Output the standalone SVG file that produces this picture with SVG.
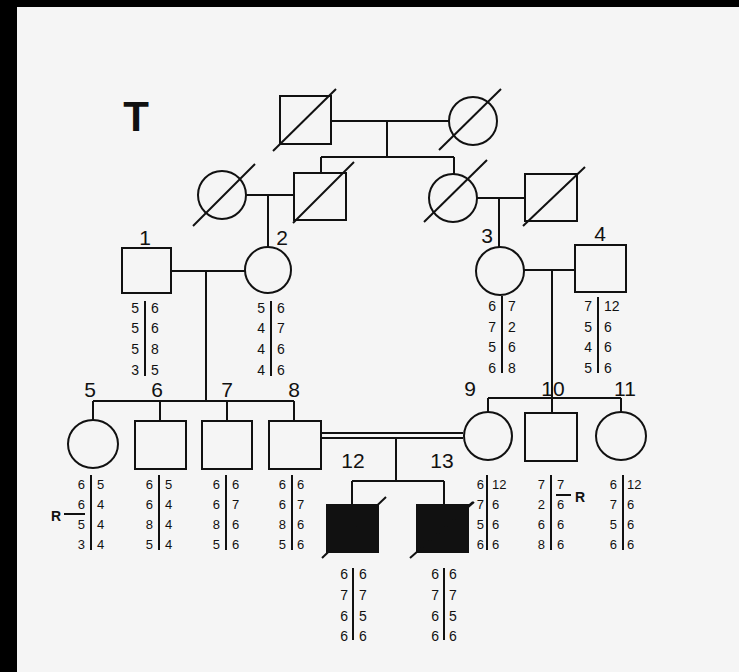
<svg xmlns="http://www.w3.org/2000/svg" width="739" height="672" viewBox="0 0 739 672">
<style>
.s{fill:none;stroke:#111;stroke-width:2}
.f{fill:#111;stroke:#111;stroke-width:2}
.c{fill:none;stroke:#111;stroke-width:2}
.lbl{font-family:"Liberation Sans",Arial,sans-serif;font-size:21px;fill:#111;text-anchor:middle}
.d{font-family:"Liberation Sans",Arial,sans-serif;font-size:14px;fill:#111}
.d2{font-family:"Liberation Sans",Arial,sans-serif;font-size:13px;fill:#111}
.l{text-anchor:end}
.r{text-anchor:start}
.bar{stroke:#111;stroke-width:2}
.R{font-family:"Liberation Sans",Arial,sans-serif;font-size:14px;font-weight:bold;fill:#111;text-anchor:middle}
</style>
<rect x="0" y="0" width="739" height="672" fill="#f5f5f5"/>
<rect x="0" y="0" width="739" height="7" fill="#000"/>
<rect x="0" y="0" width="17" height="672" fill="#000"/>
<text x="136" y="131" font-family="Liberation Sans,Arial,sans-serif" font-size="42" font-weight="bold" fill="#111" text-anchor="middle">T</text>

<g id="connectors" class="c">
<path d="M331 121H449M387 121V157M321 157H454M321 157V173M454 157V174"/>
<path d="M246 195H294M268 195V247"/>
<path d="M477 198H525M499 198V247"/>
<path d="M171 271H245M206 271V401M93 401H294M93 401V420M160 401V421M227 401V421M294 401V421"/>
<path d="M524 270H575M552 270V398M488 398H621M488 398V412M552 398V413M621 398V412"/>
<path d="M321 433H463M321 438H463M396 438V481M352 481H444M352 481V505M444 481V505"/>
</g>

<g id="gI_m"><rect class="s" x="280" y="96" width="51" height="48"/><line class="s" x1="273" y1="151" x2="336" y2="89"/></g>
<g id="gI_f"><circle class="s" cx="473" cy="121" r="24"/><line class="s" x1="439" y1="150" x2="501" y2="89"/></g>
<g id="gII_f1"><circle class="s" cx="222" cy="195" r="24"/><line class="s" x1="193" y1="226" x2="255" y2="164"/></g>
<g id="gII_m1"><rect class="s" x="294" y="173" width="52" height="47"/><line class="s" x1="293" y1="223" x2="354" y2="162"/></g>
<g id="gII_f2"><circle class="s" cx="453" cy="198" r="24"/><line class="s" x1="424" y1="222" x2="487" y2="160"/></g>
<g id="gII_m2"><rect class="s" x="525" y="174" width="52" height="47"/><line class="s" x1="523" y1="226" x2="585" y2="167"/></g>

<g id="n1"><rect class="s" x="122" y="248" width="49" height="45"/><text class="lbl" x="145" y="245">1</text>
<line class="bar" x1="145" y1="301" x2="145" y2="376"/>
<text class="d l" x="139" y="313">5</text><text class="d l" x="139" y="333">5</text><text class="d l" x="139" y="354">5</text><text class="d l" x="139" y="375">3</text>
<text class="d r" x="151" y="313">6</text><text class="d r" x="151" y="333">6</text><text class="d r" x="151" y="354">8</text><text class="d r" x="151" y="375">5</text></g>

<g id="n2"><circle class="s" cx="268" cy="270" r="23"/><text class="lbl" x="282" y="245">2</text>
<line class="bar" x1="271" y1="301" x2="271" y2="376"/>
<text class="d l" x="265" y="313">5</text><text class="d l" x="265" y="333">4</text><text class="d l" x="265" y="354">4</text><text class="d l" x="265" y="375">4</text>
<text class="d r" x="277" y="313">6</text><text class="d r" x="277" y="333">7</text><text class="d r" x="277" y="354">6</text><text class="d r" x="277" y="375">6</text></g>

<g id="n3"><circle class="s" cx="500" cy="271" r="24"/><text class="lbl" x="487" y="243">3</text>
<line class="bar" x1="502" y1="296" x2="502" y2="373"/>
<text class="d l" x="496" y="311">6</text><text class="d l" x="496" y="332">7</text><text class="d l" x="496" y="352">5</text><text class="d l" x="496" y="373">6</text>
<text class="d r" x="508" y="311">7</text><text class="d r" x="508" y="332">2</text><text class="d r" x="508" y="352">6</text><text class="d r" x="508" y="373">8</text></g>

<g id="n4"><rect class="s" x="575" y="245" width="51" height="47"/><text class="lbl" x="600" y="241">4</text>
<line class="bar" x1="598" y1="297" x2="598" y2="373"/>
<text class="d l" x="592" y="311">7</text><text class="d l" x="592" y="332">5</text><text class="d l" x="592" y="352">4</text><text class="d l" x="592" y="373">5</text>
<text class="d r" x="604" y="311">12</text><text class="d r" x="604" y="332">6</text><text class="d r" x="604" y="352">6</text><text class="d r" x="604" y="373">6</text></g>

<g id="n5"><ellipse class="s" cx="93" cy="444" rx="25" ry="24"/><text class="lbl" x="90" y="397">5</text>
<line class="bar" x1="91" y1="475" x2="91" y2="550"/>
<text class="d2 l" x="85" y="489">6</text><text class="d2 l" x="85" y="509">6</text><text class="d2 l" x="85" y="529">5</text><text class="d2 l" x="85" y="549">3</text>
<text class="d2 r" x="97" y="489">5</text><text class="d2 r" x="97" y="509">4</text><text class="d2 r" x="97" y="529">4</text><text class="d2 r" x="97" y="549">4</text>
<line class="bar" x1="64" y1="514" x2="85" y2="514" stroke-width="1.6"/><text class="R" x="56" y="521">R</text></g>

<g id="n6"><rect class="s" x="135" y="421" width="51" height="48"/><text class="lbl" x="157" y="397">6</text>
<line class="bar" x1="159" y1="475" x2="159" y2="550"/>
<text class="d2 l" x="153" y="489">6</text><text class="d2 l" x="153" y="509">6</text><text class="d2 l" x="153" y="529">8</text><text class="d2 l" x="153" y="549">5</text>
<text class="d2 r" x="165" y="489">5</text><text class="d2 r" x="165" y="509">4</text><text class="d2 r" x="165" y="529">4</text><text class="d2 r" x="165" y="549">4</text></g>

<g id="n7"><rect class="s" x="202" y="421" width="50" height="48"/><text class="lbl" x="227" y="397">7</text>
<line class="bar" x1="226" y1="475" x2="226" y2="550"/>
<text class="d2 l" x="220" y="489">6</text><text class="d2 l" x="220" y="509">6</text><text class="d2 l" x="220" y="529">8</text><text class="d2 l" x="220" y="549">5</text>
<text class="d2 r" x="232" y="489">6</text><text class="d2 r" x="232" y="509">7</text><text class="d2 r" x="232" y="529">6</text><text class="d2 r" x="232" y="549">6</text></g>

<g id="n8"><rect class="s" x="269" y="421" width="52" height="48"/><text class="lbl" x="294" y="397">8</text>
<line class="bar" x1="292" y1="475" x2="292" y2="550"/>
<text class="d2 l" x="286" y="489">6</text><text class="d2 l" x="286" y="509">6</text><text class="d2 l" x="286" y="529">8</text><text class="d2 l" x="286" y="549">5</text>
<text class="d2 r" x="297" y="489">6</text><text class="d2 r" x="297" y="509">7</text><text class="d2 r" x="297" y="529">6</text><text class="d2 r" x="297" y="549">6</text></g>

<g id="n9"><circle class="s" cx="488" cy="436" r="24"/><text class="lbl" x="470" y="396">9</text>
<line class="bar" x1="487" y1="475" x2="487" y2="550"/>
<text class="d2 l" x="484" y="489">6</text><text class="d2 l" x="484" y="509">7</text><text class="d2 l" x="484" y="529">5</text><text class="d2 l" x="484" y="549">6</text>
<text class="d2 r" x="492" y="489">12</text><text class="d2 r" x="492" y="509">6</text><text class="d2 r" x="492" y="529">6</text><text class="d2 r" x="492" y="549">6</text>
<line class="bar" x1="467" y1="507" x2="473" y2="502" stroke-width="1.6"/></g>

<g id="n10"><rect class="s" x="525" y="413" width="52" height="48"/><text class="lbl" x="553" y="396">10</text>
<line class="bar" x1="551" y1="475" x2="551" y2="550"/>
<text class="d2 l" x="545" y="489">7</text><text class="d2 l" x="545" y="509">2</text><text class="d2 l" x="545" y="529">6</text><text class="d2 l" x="545" y="549">8</text>
<text class="d2 r" x="557" y="489">7</text><text class="d2 r" x="557" y="509">6</text><text class="d2 r" x="557" y="529">6</text><text class="d2 r" x="557" y="549">6</text>
<line class="bar" x1="556" y1="495" x2="571" y2="495" stroke-width="1.6"/><text class="R" x="580" y="502">R</text></g>

<g id="n11"><ellipse class="s" cx="621" cy="436" rx="25" ry="24"/><text class="lbl" x="625" y="396">11</text>
<line class="bar" x1="623" y1="475" x2="623" y2="550"/>
<text class="d2 l" x="617" y="489">6</text><text class="d2 l" x="617" y="509">7</text><text class="d2 l" x="617" y="529">5</text><text class="d2 l" x="617" y="549">6</text>
<text class="d2 r" x="627" y="489">12</text><text class="d2 r" x="627" y="509">6</text><text class="d2 r" x="627" y="529">6</text><text class="d2 r" x="627" y="549">6</text></g>

<g id="n12"><rect class="f" x="327" y="505" width="51" height="47"/><line class="s" x1="322" y1="558" x2="386" y2="497"/><text class="lbl" x="353" y="468">12</text>
<line class="bar" x1="353" y1="568" x2="353" y2="640"/>
<text class="d l" x="348" y="579">6</text><text class="d l" x="348" y="600">7</text><text class="d l" x="348" y="621">6</text><text class="d l" x="348" y="641">6</text>
<text class="d r" x="359" y="579">6</text><text class="d r" x="359" y="600">7</text><text class="d r" x="359" y="621">5</text><text class="d r" x="359" y="641">6</text></g>

<g id="n13"><rect class="f" x="417" y="505" width="51" height="47"/><line class="s" x1="410" y1="558" x2="474" y2="502"/><text class="lbl" x="442" y="468">13</text>
<line class="bar" x1="444" y1="568" x2="444" y2="640"/>
<text class="d l" x="439" y="579">6</text><text class="d l" x="439" y="600">7</text><text class="d l" x="439" y="621">6</text><text class="d l" x="439" y="641">6</text>
<text class="d r" x="449" y="579">6</text><text class="d r" x="449" y="600">7</text><text class="d r" x="449" y="621">5</text><text class="d r" x="449" y="641">6</text></g>
</svg>
